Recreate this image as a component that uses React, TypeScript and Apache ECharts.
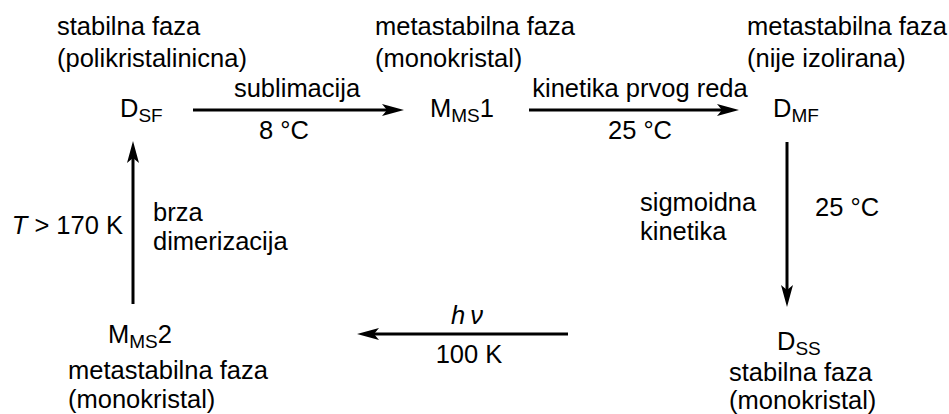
import React, { useEffect, useRef } from "react";
import * as echarts from "echarts";

// ---- content (text only) ----
const nodeNames: string[][] = [
  ["D", "SF", ""],
  ["M", "MS", "1"],
  ["D", "MF", ""],
  ["D", "SS", ""],
  ["M", "MS", "2"],
];
const phaseLabels: string[][] = [
  ["stabilna faza", "(polikristalinicna)"],
  ["metastabilna faza", "(monokristal)"],
  ["metastabilna faza", "(nije izolirana)"],
  ["stabilna faza", "(monokristal)"],
  ["metastabilna faza", "(monokristal)"],
];
const arrowLabelsA: string[][] = [
  ["sublimacija"],
  ["kinetika prvog reda"],
  ["sigmoidna", "kinetika"],
  ["{i|h\u2009ν}"],
  ["{i|T} > 170 K"],
];
const arrowLabelsB: string[][] = [
  ["8 °C"],
  ["25 °C"],
  ["25 °C"],
  ["100 K"],
  ["brza", "dimerizacija"],
];

// ---- layout ----
const FONT = '"Liberation Sans", Arial, Helvetica, sans-serif';
const F = 25.5;
const SUB = 19;
const SUBDY = 5;
const MID = 0.3465; // central baseline offset

// node: left x, baseline y
const nodePos = [
  [120, 117],
  [430, 117],
  [773, 117],
  [777, 350],
  [108, 343],
];
// phase label: left x, first-line baseline, line gap
const phasePos = [
  [57, 35, 32],
  [375, 35, 32],
  [747, 35, 32],
  [729, 380.5, 28.6],
  [68, 379, 28.6],
];
// arrows: from (x1,y1) to tip (x2,y2)
const arrows = [
  [193, 110, 404, 110],
  [529, 110, 739, 110],
  [787, 142, 787, 307],
  [568, 334, 357, 334],
  [133, 304, 133, 141],
];
// label A pos: x, baseline, align, gap
const labAPos: [number, number, string, number][] = [
  [297, 97, "center", 28],
  [640, 97, "center", 28],
  [640, 211, "left", 28.6],
  [467, 324, "center", 28],
  [123, 234, "right", 28],
];
const labBPos: [number, number, string, number][] = [
  [284, 139, "center", 28],
  [640, 139, "center", 28],
  [815, 216, "left", 28],
  [469, 363, "center", 28],
  [153, 221, "left", 29],
];

let ctx: CanvasRenderingContext2D | null = null;
function measure(text: string, size: number): number {
  if (!ctx) ctx = document.createElement("canvas").getContext("2d");
  if (!ctx) return text.length * size * 0.6;
  ctx.font = `${size}px ${FONT}`;
  return ctx.measureText(text).width;
}

// text block: lines joined, first baseline given, line gap as lineHeight
function block(lines: string[], x: number, baseline: number, align = "left", gap = F * 1.2, size = F): any {
  const top = baseline - MID * size - gap / 2;
  return {
    type: "text",
    x,
    y: top,
    silent: true,
    style: {
      text: lines.join("\n"),
      x: 0,
      y: 0,
      fill: "#000",
      fontSize: size,
      fontFamily: FONT,
      lineHeight: gap,
      align,
      verticalAlign: "top",
      rich: { i: { fontStyle: "italic", fontSize: size, fontFamily: FONT, fill: "#000", lineHeight: gap } },
    },
  };
}

function arrow(a: number[]): any[] {
  const [x1, y1, x2, y2] = a;
  const dx = x2 - x1, dy = y2 - y1;
  const L = Math.hypot(dx, dy);
  const ux = dx / L, uy = dy / L;
  const px = -uy, py = ux;
  const HL = 22, HW = 6, NOTCH = 17;
  const bx = x2 - ux * HL, by = y2 - uy * HL;
  const nx = x2 - ux * NOTCH, ny = y2 - uy * NOTCH;
  return [
    {
      type: "line",
      silent: true,
      shape: { x1, y1, x2: nx, y2: ny },
      style: { stroke: "#000", lineWidth: 3 },
    },
    {
      type: "polygon",
      silent: true,
      shape: { points: [[x2, y2], [bx + px * HW, by + py * HW], [nx, ny], [bx - px * HW, by - py * HW]] },
      style: { fill: "#000" },
    },
  ];
}

function buildElements(): any[] {
  const els: any[] = [];
  nodeNames.forEach((parts, i) => {
    const [x, b] = nodePos[i];
    const w0 = measure(parts[0], F);
    const w1 = measure(parts[1], SUB);
    els.push(block([parts[0]], x, b, "left", F, F));
    els.push(block([parts[1]], x + w0, b + SUBDY, "left", SUB, SUB));
    if (parts[2]) els.push(block([parts[2]], x + w0 + w1, b, "left", F, F));
  });
  phaseLabels.forEach((lines, i) => {
    const [x, b, gap] = phasePos[i];
    els.push(block(lines, x, b, "left", gap));
  });
  arrows.forEach((a) => els.push(...arrow(a)));
  arrowLabelsA.forEach((lines, i) => {
    const [x, b, al, gap] = labAPos[i];
    els.push(block(lines, x, b, al, gap));
  });
  arrowLabelsB.forEach((lines, i) => {
    const [x, b, al, gap] = labBPos[i];
    els.push(block(lines, x, b, al, gap));
  });
  return els;
}

export default function App() {
  const ref = useRef<HTMLDivElement>(null);
  useEffect(() => {
    if (!ref.current) return;
    const chart = echarts.init(ref.current, undefined, { renderer: "svg" });
    chart.setOption({
      animation: false,
      backgroundColor: "#fff",
      graphic: { elements: buildElements() },
    });
    return () => chart.dispose();
  }, []);
  return (
    <div
      ref={ref}
      style={{ position: "fixed", left: 0, top: 0, width: 949, height: 414, background: "#fff" }}
    />
  );
}
